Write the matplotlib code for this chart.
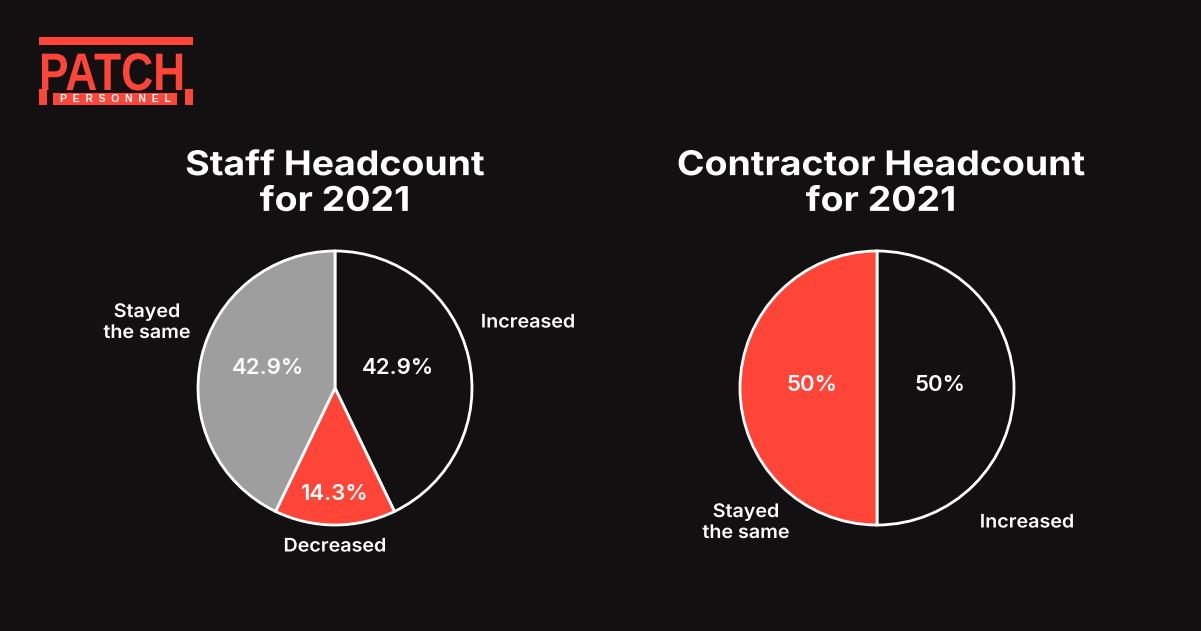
import matplotlib
matplotlib.use("Agg")
import matplotlib.pyplot as plt
from matplotlib.patches import Rectangle
from matplotlib.patheffects import AbstractPathEffect
from matplotlib.transforms import Affine2D

W, H = 1201, 631
BG = "#121011"
RED = "#ff4538"
GREY = "#9e9e9e"

staff_labels = ["Increased", "Decreased", "Stayed\nthe same"]
staff_values = [42.9, 14.3, 42.9]
staff_pct = ["42.9%", "14.3%", "42.9%"]

contractor_labels = ["Increased", "Stayed\nthe same"]
contractor_values = [50, 50]
contractor_pct = ["50%", "50%"]

plt.rcParams["font.family"] = ["Inter", "DejaVu Sans"]


class Stretch(AbstractPathEffect):
    """Scale glyph paths horizontally about a fixed display x."""

    def __init__(self, sx, x0):
        super().__init__()
        self.sx, self.x0 = sx, x0

    def draw_path(self, renderer, gc, tpath, affine, rgbFace=None):
        affine = affine + Affine2D().translate(-self.x0, 0).scale(self.sx, 1).translate(self.x0, 0)
        renderer.draw_path(gc, tpath, affine, rgbFace)


fig = plt.figure(figsize=(W / 100, H / 100), dpi=100, facecolor=BG)
ax = fig.add_axes([0, 0, 1, 1])


def Y(y):
    return H - y


r = 137
wp = dict(edgecolor="white", linewidth=2)

# staff pie
ax.pie(staff_values, colors=[BG, RED, GREY], startangle=90, counterclock=False,
       center=(335, Y(388)), radius=r, wedgeprops=wp, frame=True)
# contractor pie
ax.pie(contractor_values, colors=[BG, RED], startangle=90, counterclock=False,
       center=(877, Y(388)), radius=r, wedgeprops=wp, frame=True)

ax.set_xlim(0, W)
ax.set_ylim(0, H)
ax.set_aspect("equal")
ax.axis("off")

# logo
ax.add_patch(Rectangle((39, Y(45)), 154, 8, color=RED, lw=0))
ax.text(39, Y(90), "PATCH", color=RED, fontsize=38, fontweight="bold",
        family=["Liberation Sans", "DejaVu Sans"], va="baseline", ha="left",
        path_effects=[Stretch(0.84, 39)])
ax.add_patch(Rectangle((39, Y(105)), 8, 16, color=RED, lw=0))
ax.add_patch(Rectangle((185, Y(105)), 8, 16, color=RED, lw=0))
ax.add_patch(Rectangle((53, Y(105)), 124, 12, color=RED, lw=0))
ax.text(115, Y(99), "P  E  R  S  O  N  N  E  L", color="white", fontsize=7.5,
        fontweight="bold", family=["Liberation Sans", "DejaVu Sans"],
        va="center", ha="center")

# titles
ax.text(335, Y(184), "Staff Headcount\nfor 2021", color="white", fontsize=24.5,
        fontweight="bold", ha="center", va="center", linespacing=1.15,
        path_effects=[Stretch(1.1, 335)])
ax.text(881, Y(184), "Contractor Headcount\nfor 2021", color="white", fontsize=24.5,
        fontweight="bold", ha="center", va="center", linespacing=1.15,
        path_effects=[Stretch(1.1, 881)])

pct_kw = dict(color="white", fontsize=16, fontweight="semibold", ha="center", va="center")
for txt, (x, y) in zip(staff_pct, [(268, 368), (335, 494), (398, 368)][::-1][::-1]):
    pass
for txt, (x, y) in zip(staff_pct, [(398, 368), (335, 494), (268, 368)]):
    ax.text(x, Y(y), txt, **pct_kw)
for txt, (x, y) in zip(contractor_pct, [(940, 385), (812, 385)]):
    ax.text(x, Y(y), txt, **pct_kw)

lab_kw = dict(color="white", fontsize=13.5, fontweight="semibold", ha="center",
              va="center", linespacing=1.3, path_effects=None)
lab_pos_staff = [(528, 323), (335, 547), (147, 323)]
lab_pos_contr = [(1027, 523), (746, 523)]
for txt, (x, y) in zip(staff_labels, lab_pos_staff):
    ax.text(x, Y(y), txt, color="white", fontsize=13.5, fontweight="semibold",
            ha="center", va="center", linespacing=1.3, path_effects=[Stretch(1.05, x)])
for txt, (x, y) in zip(contractor_labels, lab_pos_contr):
    ax.text(x, Y(y), txt, color="white", fontsize=13.5, fontweight="semibold",
            ha="center", va="center", linespacing=1.3, path_effects=[Stretch(1.05, x)])

fig.savefig("out.png", dpi=100, facecolor=BG)
